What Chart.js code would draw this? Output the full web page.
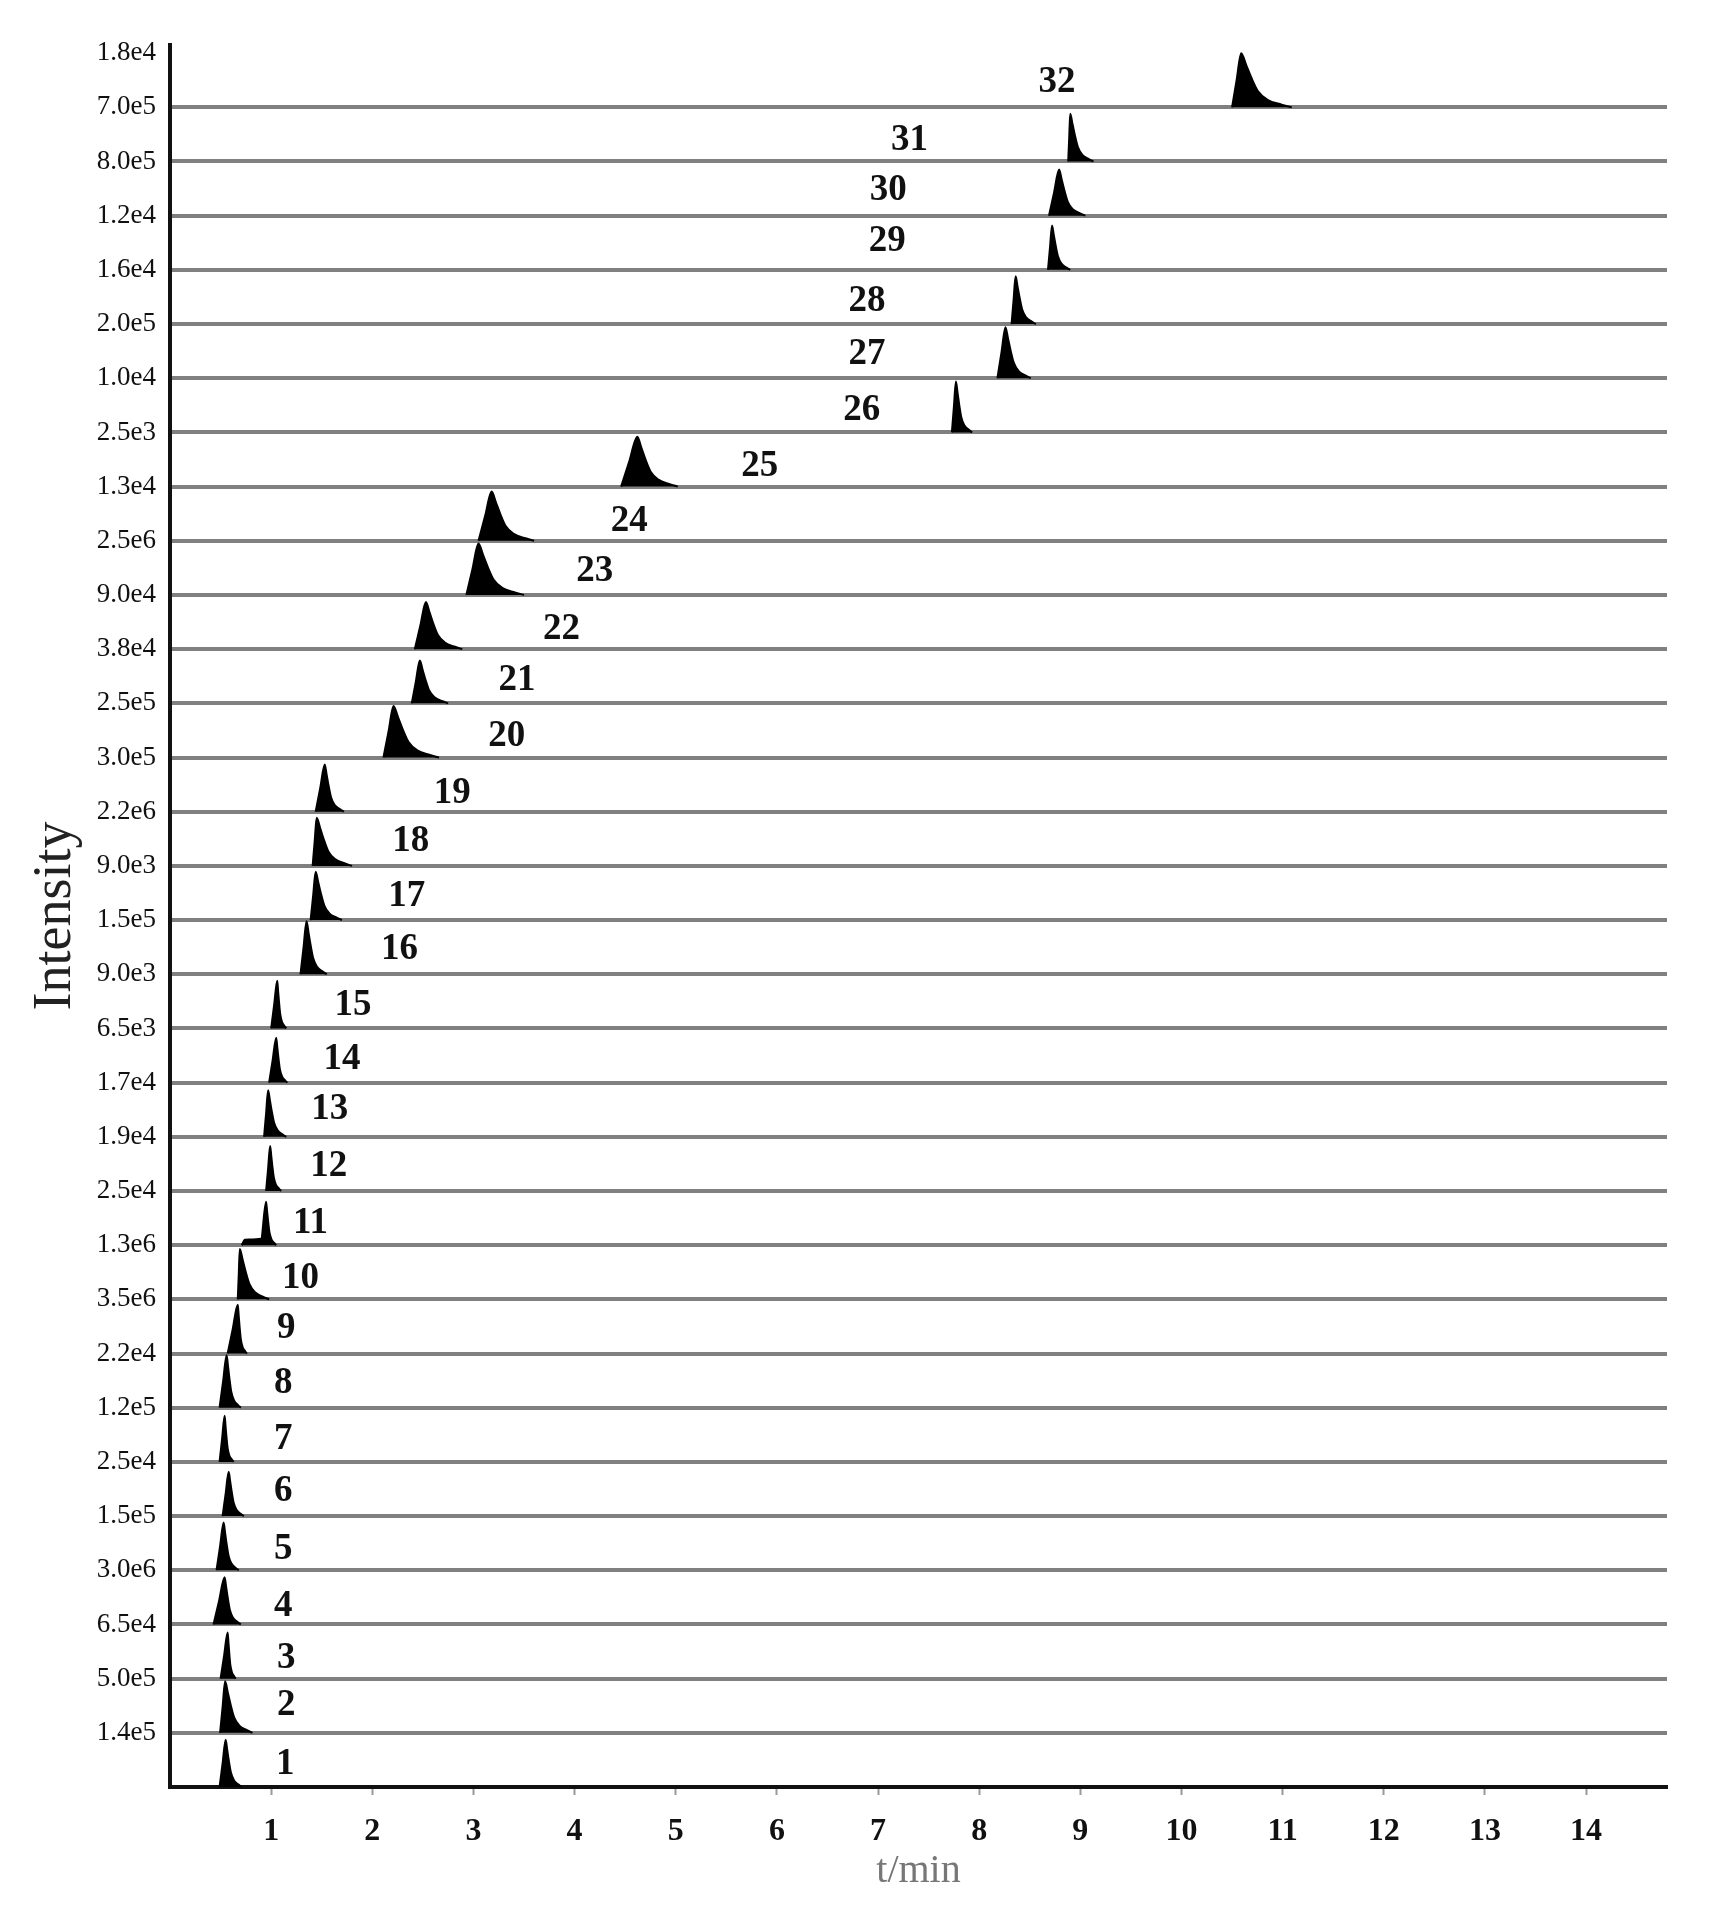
<!DOCTYPE html>
<html>
<head>
<meta charset="utf-8">
<script src="https://cdn.jsdelivr.net/npm/chart.js@4.4.1/dist/chart.umd.min.js"></script>
<style>
html, body { margin: 0; padding: 0; background: #fff; }
#wrap { width: 1728px; height: 1913px; position: relative; }
</style>
</head>
<body>
<div id="wrap"><canvas id="chroma"></canvas></div>
<script>
// traces listed bottom (peak 1) to top (peak 32)
const peakNames = ['1','2','3','4','5','6','7','8','9','10','11','12','13','14','15','16',
  '17','18','19','20','21','22','23','24','25','26','27','28','29','30','31','32'];
const intensityLabels = ['1.4e5','5.0e5','6.5e4','3.0e6','1.5e5','2.5e4','1.2e5','2.2e4',
  '3.5e6','1.3e6','2.5e4','1.9e4','1.7e4','6.5e3','9.0e3','1.5e5',
  '9.0e3','2.2e6','3.0e5','2.5e5','3.8e4','9.0e4','2.5e6','1.3e4',
  '2.5e3','1.0e4','2.0e5','1.6e4','1.2e4','8.0e5','7.0e5','1.8e4'];
const xTicks = [1,2,3,4,5,6,7,8,9,10,11,12,13,14];

// retention time of apex (min)
const rt = [0.55,0.545,0.57,0.54,0.53,0.58,0.54,0.56,0.67,0.69,0.95,0.99,0.97,1.05,1.06,1.35,
  1.44,1.45,1.53,2.21,2.47,2.53,3.05,3.18,4.62,7.77,8.26,8.36,8.72,8.79,8.90,10.59];
// apex height as a share of the trace band
const ht = [0.87,0.95,0.85,0.87,0.88,0.82,0.85,0.97,0.9,0.93,0.8,0.83,0.86,0.83,0.88,0.98,
  0.89,0.89,0.87,0.95,0.79,0.87,0.95,0.91,0.92,0.94,0.94,0.88,0.82,0.85,0.88,1.0];
// leading edge and tail length (min)
const front = [0.06,0.05,0.07,0.11,0.07,0.06,0.05,0.07,0.1,0.02,0.04,0.04,0.04,0.07,0.06,0.06,
  0.05,0.04,0.09,0.1,0.08,0.11,0.12,0.13,0.16,0.04,0.08,0.04,0.04,0.1,0.02,0.09];
const tail = [0.16,0.27,0.08,0.16,0.15,0.15,0.09,0.14,0.09,0.29,0.1,0.11,0.18,0.11,0.09,0.2,
  0.26,0.35,0.19,0.45,0.28,0.36,0.45,0.42,0.4,0.16,0.25,0.2,0.18,0.26,0.23,0.5];
const tailPos = [0, 0.1, 0.2, 0.33, 0.52, 0.8, 1];
const tailLvl = [1, 0.78, 0.55, 0.3, 0.14, 0.05, 0];
// small shoulder in front of peak 11 (min, share of band)
const shoulder11 = [[0.71, 0], [0.74, 0.1], [0.9, 0.12]];

// where the peak numbers sit (min, share of band above baseline)
const labelX = [1.14,1.15,1.15,1.12,1.12,1.12,1.12,1.12,1.15,1.29,1.39,1.57,1.58,1.70,1.81,2.27,
  2.34,2.38,2.79,3.33,3.43,3.87,4.20,4.54,5.83,6.84,6.89,6.89,7.09,7.10,7.31,8.77];
const labelY = [0.41,0.5,0.38,0.34,0.38,0.45,0.41,0.45,0.47,0.38,0.41,0.45,0.5,0.43,0.43,0.45,
  0.43,0.45,0.34,0.38,0.43,0.36,0.43,0.36,0.38,0.41,0.43,0.41,0.52,0.47,0.38,0.45];

function peakPoints(i) {
  const base = i;
  const pts = [];
  if (i === 10) {
    shoulder11.forEach(p => pts.push({ x: p[0], y: base + p[1] }));
  } else {
    pts.push({ x: rt[i] - front[i], y: base });
    pts.push({ x: rt[i] - front[i] * 0.5, y: base + ht[i] * 0.5 });
  }
  tailPos.forEach((p, k) => pts.push({ x: rt[i] + p * tail[i], y: base + ht[i] * tailLvl[k] }));
  return pts;
}

const datasets = peakNames.map((name, i) => ({
  label: name,
  data: peakPoints(i),
  borderColor: '#000',
  backgroundColor: '#000',
  borderWidth: 2,
  pointRadius: 0,
  cubicInterpolationMode: 'monotone',
  fill: { value: i }
}));

const peakLabelPlugin = {
  id: 'peakLabels',
  afterDatasetsDraw(chart) {
    const { ctx, scales: { x, y } } = chart;
    ctx.save();
    ctx.font = 'bold 37px "Liberation Serif"';
    ctx.fillStyle = '#111';
    ctx.textAlign = 'center';
    ctx.textBaseline = 'middle';
    peakNames.forEach((name, i) => {
      ctx.fillText(name, x.getPixelForValue(labelX[i]), y.getPixelForValue(i + labelY[i]));
    });
    ctx.restore();
  }
};

new Chart(document.getElementById('chroma'), {
  type: 'line',
  data: { datasets: datasets },
  plugins: [peakLabelPlugin],
  options: {
    responsive: true,
    maintainAspectRatio: false,
    animation: false,
    layout: { padding: { top: 45, right: 61, left: 0, bottom: 0 } },
    plugins: { legend: { display: false }, tooltip: { enabled: false } },
    scales: {
      x: {
        type: 'linear', min: 0, max: 14.8,
        afterBuildTicks: s => { s.ticks = xTicks.map(v => ({ value: v })); },
        afterFit: s => { s.height = 126; },
        grid: { drawOnChartArea: false, drawTicks: true, tickLength: 8, tickColor: '#999', tickWidth: 2 },
        border: { color: '#111', width: 4 },
        ticks: {
          font: { family: 'Liberation Serif', size: 32, weight: 'bold' },
          color: '#111', padding: 18, maxRotation: 0, autoSkip: false
        },
        title: {
          display: true, text: 't/min', color: '#777',
          font: { family: 'Liberation Serif', size: 40 },
          padding: { top: 0, bottom: 18 }
        }
      },
      y: {
        type: 'linear', min: 0, max: 32.15,
        afterBuildTicks: s => { s.ticks = intensityLabels.map((_, i) => ({ value: i + 1 })); },
        afterFit: s => { s.width = 170; },
        grid: {
          color: c => (c.tick && c.tick.value === 32) ? 'rgba(0,0,0,0)' : '#808080',
          lineWidth: 4, drawTicks: false
        },
        border: { color: '#111', width: 4 },
        ticks: {
          autoSkip: false, padding: 14, color: '#111',
          font: { family: 'Liberation Serif', size: 27 },
          callback: v => intensityLabels[v - 1]
        },
        title: {
          display: true, text: 'Intensity', color: '#222',
          font: { family: 'Liberation Serif', size: 54 },
          padding: { top: 23, bottom: 0 }
        }
      }
    }
  }
});
</script>
</body>
</html>
